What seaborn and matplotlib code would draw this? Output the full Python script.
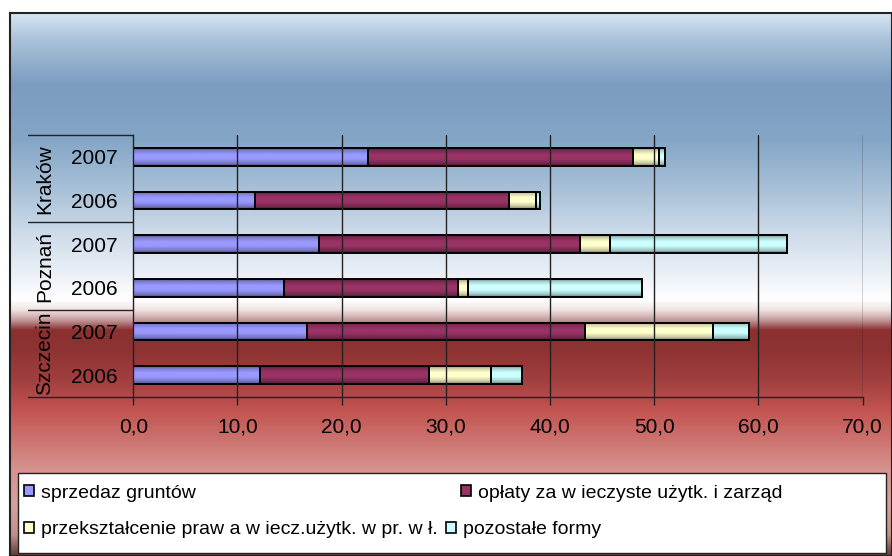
import numpy as np
import pandas as pd
import matplotlib
matplotlib.use("Agg")
import matplotlib.pyplot as plt
import matplotlib.patches as mpatches
import seaborn as sns

# ---------------- data ----------------
groups = ["Kraków", "Kraków", "Poznań", "Poznań", "Szczecin", "Szczecin"]
years = ["2007", "2006", "2007", "2006", "2007", "2006"]
group_names = ["Kraków", "Poznań", "Szczecin"]
sprzedaz = [22.5, 11.7, 17.8, 14.5, 16.7, 12.2]
oplaty = [25.5, 24.4, 25.1, 16.7, 26.7, 16.2]
przeksztalcenie = [2.5, 2.6, 2.9, 0.9, 12.2, 5.9]
pozostale = [0.5, 0.3, 16.9, 16.7, 3.5, 3.0]
series_names = ["sprzedaz gruntów",
                "opłaty za w ieczyste użytk. i zarząd",
                "przekształcenie praw a w iecz.użytk. w pr. w ł.",
                "pozostałe formy"]
series_values = [sprzedaz, oplaty, przeksztalcenie, pozostale]
series_colors = ["#9999FF", "#993366", "#FFFFCC", "#CCFFFF"]
xticks = [0, 10, 20, 30, 40, 50, 60, 70]
xtick_labels = ["0,0", "10,0", "20,0", "30,0", "40,0", "50,0", "60,0", "70,0"]

sns.set_style("white")
plt.rcParams["font.family"] = ["Liberation Sans", "DejaVu Sans"]
plt.rcParams["text.color"] = "black"
plt.rcParams["xtick.color"] = "black"
plt.rcParams["ytick.color"] = "black"
FS = 15
LFS = 14

W, H = 892, 556
fig = plt.figure(figsize=(W / 100, H / 100), dpi=100)
fig.patch.set_facecolor("white")

# ---------------- background gradient ----------------
stops_px = [13, 40, 85, 140, 190, 235, 270, 300, 310, 320, 330, 350, 380, 410, 440, 470, 505, 535, 556]
stops_col = ["#d6e5f2", "#a9c2d9", "#7b9bc0", "#84a6c6", "#a9c1d8", "#cfdcea", "#e8eef5",
             "#ffffff", "#f0e2e2", "#c49a9a", "#8b2f2f", "#8e3333", "#a13f3f", "#c25450",
             "#cc736f", "#d6938f", "#d7a09c", "#c09088", "#5e3a32"]
rows = np.arange(13, 556) + 0.5
rgb = np.array([matplotlib.colors.to_rgb(c) for c in stops_col])
img = np.stack([np.interp(rows, stops_px, rgb[:, k]) for k in range(3)], axis=-1)[:, None, :]
bg = fig.add_axes([10 / W, 0, (W - 10) / W, (H - 13) / H], zorder=-5)
bg.imshow(img, aspect="auto", extent=(0, 1, 0, 1), interpolation="bilinear")
bg.set_xticks([])
bg.set_yticks([])
for s in bg.spines.values():
    s.set_color("#222222")
    s.set_linewidth(1.5)

# ---------------- main axes ----------------
ax_l, ax_r, ax_t, ax_b = 133.3, 862.6, 135, 397
ax = fig.add_axes([ax_l / W, 1 - ax_b / H, (ax_r - ax_l) / W, (ax_b - ax_t) / H])
ax.set_facecolor("none")

labels = [f"{g} {y}" for g, y in zip(groups, years)]
df = pd.DataFrame({"label": labels})
left = np.zeros(len(labels))
for name, vals, col in zip(series_names, series_values, series_colors):
    df["v"] = vals
    sns.barplot(data=df, x="v", y="label", order=labels, orient="y", color=col,
                width=0.41, errorbar=None, left=list(left), ax=ax,
                edgecolor="black", linewidth=1.4, saturation=1)
    left = left + np.array(vals)

# bar shading: vertical gradient clipped to each bar
tgrid = np.linspace(0, 1, 40)
shade = np.interp(tgrid, [0, 0.12, 0.35, 0.6, 0.85, 1.0], [0.55, 0.8, 1.0, 1.0, 0.78, 0.5])
for cont, col in zip(ax.containers, series_colors):
    base = np.array(matplotlib.colors.to_rgb(col))
    grad = np.clip(shade[:, None] * base[None, :], 0, 1)[:, None, :]
    for p in cont.patches:
        x0, y0, w, h = p.get_x(), p.get_y(), p.get_width(), p.get_height()
        im = ax.imshow(grad, aspect="auto", extent=(x0, x0 + w, y0 + h, y0),
                       zorder=p.get_zorder() - 0.01, interpolation="bilinear")
        im.set_clip_path(p)
        p.set_facecolor("none")

ax.set_xlim(0, 70)
ax.set_ylim(5.5, -0.5)
ax.set_xticks(xticks, xtick_labels, fontsize=FS)
ax.set_yticks(range(len(years)), years, fontsize=FS)
ax.set_xlabel("")
ax.set_ylabel("")
ax.tick_params(axis="x", direction="out", length=6, width=1, color="#222222",
               labelcolor="black", pad=9, bottom=True)
ax.tick_params(axis="y", length=0, pad=11, labelcolor="black")
ax.grid(False)
for xv in xticks[1:]:
    ax.axvline(xv, color="#222222", lw=1, zorder=1)
ax.spines["top"].set_visible(False)
ax.spines["right"].set_visible(False)
for s in ["left", "bottom"]:
    ax.spines[s].set_color("#222222")
    ax.spines[s].set_linewidth(1)

# multi-level category labels
ytr = ax.get_yaxis_transform()
x_sep = (28 - ax_l) / (ax_r - ax_l)
x_grp = (45 - ax_l) / (ax_r - ax_l)
for yb in [-0.5, 1.5, 3.5, 5.5]:
    ax.plot([x_sep, 0], [yb, yb], transform=ytr, color="#222222", lw=1, clip_on=False)
for i, g in enumerate(group_names):
    ax.text(x_grp, 2 * i + 0.5, g, transform=ytr, rotation=90, ha="center", va="center",
            fontsize=FS, color="black")

# ---------------- legend ----------------
frame = mpatches.Rectangle((18 / W, 1 - 553 / H), 868 / W, 80 / H, transform=fig.transFigure,
                           facecolor="white", edgecolor="#222222", lw=1, zorder=1)
fig.patches.append(frame)
legend_pos = [(24, 493), (461, 493), (24, 530), (446, 530)]
for name, col, (px, py) in zip(series_names, series_colors, legend_pos):
    h = mpatches.Patch(facecolor=col, edgecolor="black", lw=1.2)
    lg = fig.legend([h], [name], loc="center left", bbox_to_anchor=(px / W, 1 - py / H),
                    frameon=False, fontsize=LFS, borderpad=0, borderaxespad=0,
                    handlelength=0.5, handleheight=0.5, handletextpad=0.35,
                    labelcolor="black")
    lg.set_zorder(5)

fig.savefig("out.png", dpi=100)
